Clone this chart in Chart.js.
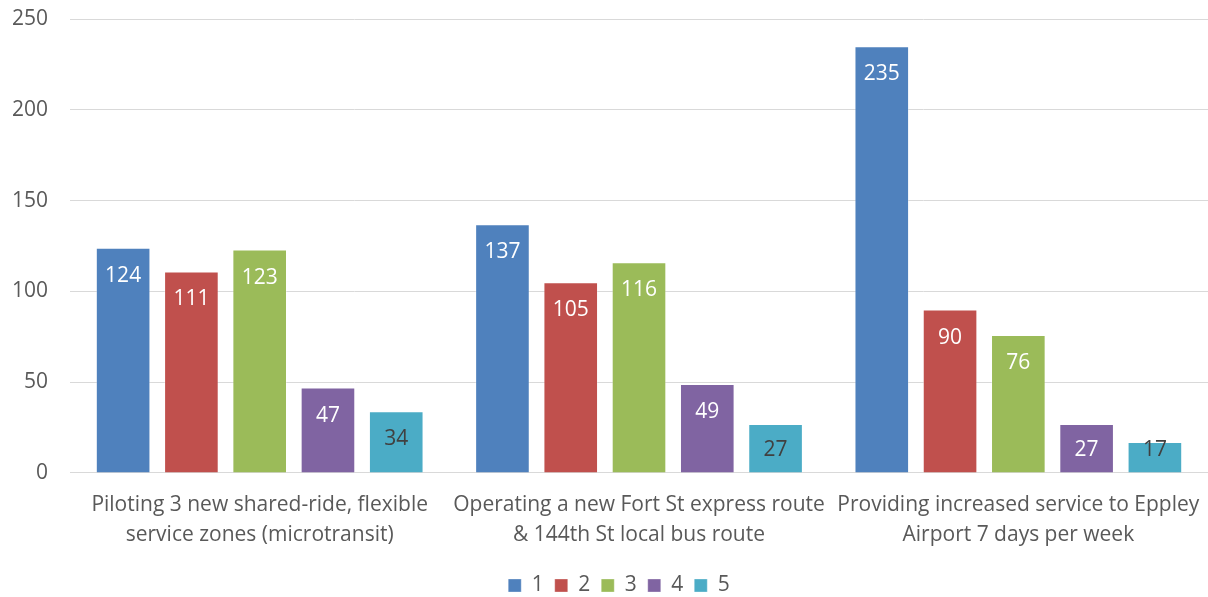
<!DOCTYPE html>
<html><head><meta charset="utf-8">
<script src="https://cdn.jsdelivr.net/npm/chart.js@4"></script>
<style>html,body{margin:0;padding:0;background:#fff}#wrap{width:1208px;height:597px}</style>
</head><body><div id="wrap"><canvas id="c" width="1208" height="597"></canvas></div>
<script>
const categories = [
  ["Piloting 3 new shared-ride, flexible", "service zones (microtransit)"],
  ["Operating a new Fort St express route", "& 144th St local bus route"],
  ["Providing increased service to Eppley", "Airport 7 days per week"]
];
const seriesNames = ["1", "2", "3", "4", "5"];
const s1 = [124, 137, 235];
const s2 = [111, 105, 90];
const s3 = [123, 116, 76];
const s4 = [47, 49, 27];
const s5 = [34, 27, 17];
const yTicks = [0, 50, 100, 150, 200, 250];

const colors = ["#4f81bd", "#c0504d", "#9bbb59", "#8064a2", "#4bacc6"];
const labelColors = ["#ffffff", "#ffffff", "#ffffff", "#ffffff", "#404040"];
const FONT = "Open Sans";
const FS = 21;

const labelPlugin = {
  id: 'barLabels',
  afterDatasetsDraw(chart) {
    const ctx = chart.ctx;
    ctx.save();
    ctx.font = FS + "px '" + FONT + "'";
    ctx.textAlign = 'center';
    ctx.textBaseline = 'middle';
    chart.data.datasets.forEach((ds, i) => {
      const meta = chart.getDatasetMeta(i);
      meta.data.forEach((bar, j) => {
        ctx.fillStyle = labelColors[i];
        const y = Math.min(bar.y + 28, bar.base - 22);
        ctx.fillText(String(ds.data[j]), bar.x, y);
      });
    });
    ctx.restore();
  }
};

const legendShift = {
  id: 'legendShift',
  afterLayout(chart) {
    if (chart.legend) { chart.legend.left += 20; chart.legend.right += 20; }
  }
};

const allSeries = [s1, s2, s3, s4, s5];
new Chart(document.getElementById('c'), {
  type: 'bar',
  data: {
    labels: categories,
    datasets: allSeries.map((d, i) => ({
      label: seriesNames[i],
      data: d,
      backgroundColor: colors[i],
      borderColor: 'rgba(255,255,255,0.3)',
      borderWidth: 1,
      categoryPercentage: 0.9,
      barPercentage: 0.8
    }))
  },
  options: {
    responsive: false,
    animation: false,
    devicePixelRatio: 1,
    layout: { padding: { left: -10, right: 0, top: 19, bottom: -9 } },
    plugins: {
      legend: {
        position: 'bottom',
        labels: { font: { family: FONT, size: FS }, color: '#595959', boxWidth: 13, boxHeight: 13, padding: 11 }
      },
      tooltip: { enabled: false }
    },
    scales: {
      x: {
        grid: { display: false },
        border: { color: '#d9d9d9', width: 1 },
        ticks: { font: { family: FONT, size: FS, lineHeight: 1.43 }, color: '#595959', padding: 9, maxRotation: 0, autoSkip: false },
        afterFit(s) { s.paddingLeft = 0; s.paddingRight = 0; s.height += 5; }
      },
      y: {
        min: 0, max: 250,
        afterBuildTicks: (axis) => { axis.ticks = yTicks.map(v => ({ value: v })); },
        grid: { color: '#d9d9d9', drawTicks: false },
        border: { display: false },
        ticks: { font: { family: FONT, size: FS }, color: '#595959', padding: 22 },
        afterFit(s) { s.paddingTop = 0; s.paddingBottom = 0; }
      }
    }
  },
  plugins: [labelPlugin, legendShift]
});
</script></body></html>
